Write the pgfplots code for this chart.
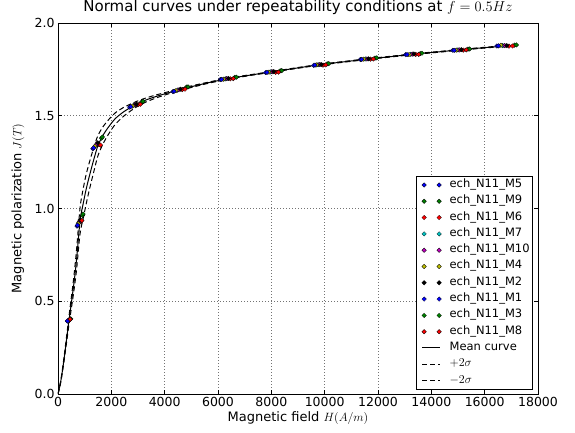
\documentclass[border=0pt]{standalone}
\usepackage{fontspec}
\setmainfont{DejaVu Sans}
\usepackage{pgfplots}
\usepackage{pgfplotstable}
\pgfplotsset{compat=1.18}

\definecolor{mb}{rgb}{0,0,1}
\definecolor{mg}{rgb}{0,0.5,0}
\definecolor{mr}{rgb}{1,0,0}
\definecolor{mc}{rgb}{0,0.75,0.75}
\definecolor{mm}{rgb}{0.75,0,0.75}
\definecolor{my}{rgb}{0.75,0.75,0}

% mean curve and +/- 2 sigma envelopes
\pgfplotstableread{
H mean plus minus
0 0 0 0
100 0.065 0.070 0.060
200 0.160 0.170 0.150
300 0.270 0.285 0.255
415 0.400 0.422 0.378
500 0.490 0.520 0.460
600 0.600 0.640 0.560
700 0.730 0.785 0.675
828 0.935 1.005 0.865
950 1.030 1.110 0.950
1050 1.100 1.180 1.020
1150 1.160 1.235 1.085
1250 1.215 1.285 1.145
1350 1.268 1.333 1.203
1488 1.335 1.390 1.280
1650 1.385 1.433 1.337
1800 1.420 1.462 1.378
1950 1.450 1.487 1.413
2150 1.485 1.516 1.454
2450 1.520 1.544 1.496
2750 1.547 1.565 1.529
2940 1.562 1.577 1.547
3300 1.585 1.596 1.574
3700 1.605 1.613 1.597
4100 1.622 1.628 1.616
4593 1.642 1.647 1.637
5100 1.660 1.664 1.656
5700 1.680 1.683 1.677
6390 1.700 1.703 1.697
7250 1.720 1.722 1.718
8090 1.738 1.740 1.736
8950 1.757 1.759 1.755
9870 1.776 1.778 1.774
10800 1.792 1.794 1.790
11645 1.806 1.808 1.804
12500 1.819 1.821 1.817
13345 1.832 1.834 1.830
14250 1.844 1.846 1.842
15123 1.856 1.858 1.854
16000 1.867 1.869 1.865
16825 1.877 1.879 1.875
17200 1.881 1.883 1.879
}\curves

\pgfplotstableread{
H J
350 0.393
715 0.905
1310 1.322
2690 1.546
4310 1.630
6090 1.695
7790 1.733
9590 1.772
11340 1.803
13040 1.829
14810 1.853
16460 1.876
}\mfive
\pgfplotstableread{
H J
467 0.404
918 0.963
1630 1.379
3140 1.575
4819 1.654
6630 1.707
8330 1.742
10094 1.780
11889 1.811
13589 1.836
15373 1.859
17117 1.881
}\mnine
\pgfplotstableread{
H J
431 0.400
855 0.930
1530 1.345
3000 1.560
4660 1.641
6462 1.699
8162 1.734
9937 1.773
11718 1.805
13418 1.831
15198 1.854
16913 1.875
}\msix
\pgfplotstableread{
H J
389 0.397
783 0.925
1417 1.341
2840 1.556
4480 1.638
6270 1.699
7970 1.736
9758 1.775
11523 1.806
13223 1.831
14998 1.855
16679 1.878
}\mseven
\pgfplotstableread{
H J
402 0.398
805 0.931
1452 1.347
2890 1.559
4536 1.640
6330 1.700
8030 1.737
9814 1.776
11584 1.806
13284 1.832
15060 1.855
16752 1.878
}\mten
\pgfplotstableread{
H J
376 0.395
760 0.918
1381 1.335
2790 1.552
4423 1.635
6210 1.697
7910 1.735
9702 1.774
11462 1.805
13162 1.830
14935 1.854
16606 1.880
}\mfour
\pgfplotstableread{
H J
415 0.399
828 0.938
1488 1.354
2940 1.562
4593 1.643
6390 1.701
8090 1.738
9870 1.776
11645 1.807
13345 1.833
15123 1.856
16825 1.878
}\mtwo
\pgfplotstableread{
H J
360 0.394
733 0.910
1338 1.327
2730 1.549
4355 1.632
6138 1.696
7838 1.734
9635 1.773
11389 1.804
13089 1.830
14860 1.853
16518 1.877
}\mone
\pgfplotstableread{
H J
480 0.405
940 0.970
1665 1.385
3190 1.578
4875 1.656
6690 1.708
8390 1.743
10150 1.781
11950 1.812
13650 1.837
15435 1.860
17190 1.882
}\mthree
\pgfplotstableread{
H J
454 0.403
895 0.935
1594 1.342
3090 1.562
4762 1.643
6570 1.700
8270 1.735
10038 1.774
11828 1.806
13528 1.831
15310 1.855
17044 1.876
}\meight

\pgfplotsset{
  pts/.style={only marks, mark=square*, mark size=1.6pt,
    mark options={rotate=45, fill=#1, draw=black, line width=0.3pt},
    legend image code/.code={\path (-3pt,0pt) (26pt,0pt);
      \draw[##1] plot coordinates {(2pt,0pt) (17pt,0pt)};}},
  crv/.style={black, line width=1pt, smooth, no marks,
    legend image code/.code={\path (-3pt,0pt) (26pt,0pt);
      \draw[##1] (0pt,0pt) -- (18pt,0pt);}},
}

\begin{document}
\begin{tikzpicture}
\path[use as bounding box] (-58pt,-39pt) rectangle (517pt,394pt);
\begin{axis}[
  at={(0,0)}, anchor=south west,
  scale only axis,
  width=480pt, height=371pt,
  xmin=0, xmax=18000, ymin=0, ymax=2,
  xtick={0,2000,...,18000},
  ytick={0,0.5,...,2},
  scaled x ticks=false,
  tick align=inside,
  major tick length=4pt,
  axis line style={line width=0.8pt},
  every tick/.style={black, line width=0.6pt},
  grid=major,
  major grid style={black!55, line width=0.5pt, dash pattern=on 1pt off 2pt},
  /pgf/number format/assume math mode=true,
  /pgf/number format/1000 sep={},
  xticklabel style={/pgf/number format/.cd, fixed, precision=0, 1000 sep={}},
  yticklabel style={/pgf/number format/.cd, fixed, fixed zerofill, precision=1},
  ticklabel style={font=\fontsize{12.5}{14}\selectfont},
  title={Normal curves under repeatability conditions at $f=0.5Hz$},
  title style={font=\fontsize{15}{17}\selectfont, at={(axis description cs:0.5,1)}, anchor=base, yshift=5.7pt},
  xlabel={Magnetic field $H(A/m)$},
  ylabel={Magnetic polarization $J(T)$},
  label style={font=\fontsize{13}{15}\selectfont},
  xlabel style={at={(axis description cs:0.5,-0.0647)}, anchor=center},
  ylabel style={at={(axis description cs:-0.0833,0.5)}, anchor=center},
  legend cell align=left,
  legend style={at={(1,0)}, anchor=south east, xshift=-5pt, yshift=4pt,
    draw=black, line width=0.8pt, fill=white,
    font=\fontsize{11.5}{13}\selectfont,
    row sep=4.3pt, inner xsep=2pt, inner ysep=3pt,
    nodes={inner sep=1pt, text height=7.5pt, text depth=2.5pt}},
]
\addplot[pts=mb] table[x=H, y=J] {\mfive};
\addlegendentry{ech\_N11\_M5}
\addplot[pts=mg] table[x=H, y=J] {\mnine};
\addlegendentry{ech\_N11\_M9}
\addplot[pts=mr] table[x=H, y=J] {\msix};
\addlegendentry{ech\_N11\_M6}
\addplot[pts=mc] table[x=H, y=J] {\mseven};
\addlegendentry{ech\_N11\_M7}
\addplot[pts=mm] table[x=H, y=J] {\mten};
\addlegendentry{ech\_N11\_M10}
\addplot[pts=my] table[x=H, y=J] {\mfour};
\addlegendentry{ech\_N11\_M4}
\addplot[pts=black] table[x=H, y=J] {\mtwo};
\addlegendentry{ech\_N11\_M2}
\addplot[pts=mb] table[x=H, y=J] {\mone};
\addlegendentry{ech\_N11\_M1}
\addplot[pts=mg] table[x=H, y=J] {\mthree};
\addlegendentry{ech\_N11\_M3}
\addplot[pts=mr] table[x=H, y=J] {\meight};
\addlegendentry{ech\_N11\_M8}
\addplot[crv] table[x=H, y=mean] {\curves};
\addlegendentry{Mean curve}
\addplot[crv, dash pattern=on 5pt off 3pt] table[x=H, y=plus] {\curves};
\addlegendentry{$+2\sigma$}
\addplot[crv, dash pattern=on 5pt off 3pt] table[x=H, y=minus] {\curves};
\addlegendentry{$-2\sigma$}
\end{axis}
\end{tikzpicture}
\end{document}
